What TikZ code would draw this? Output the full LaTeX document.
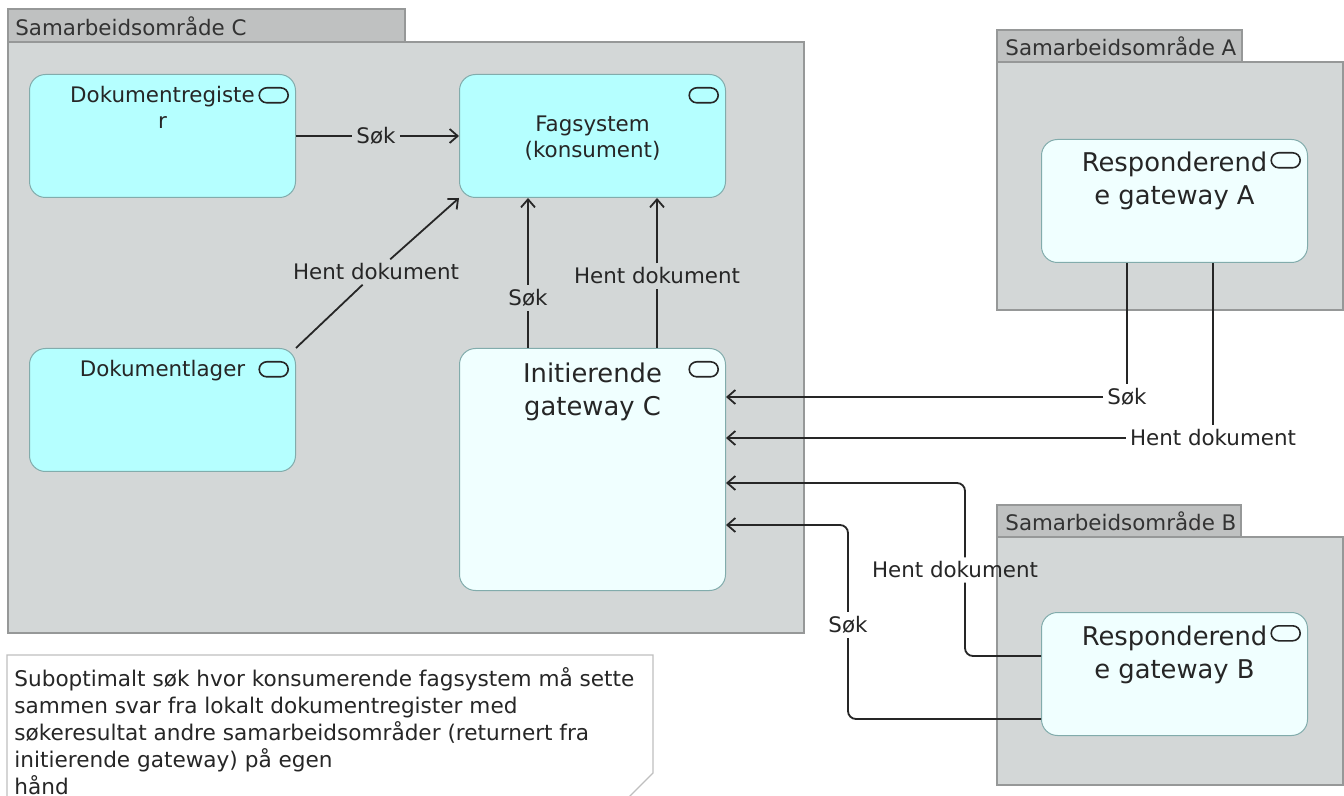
\documentclass[tikz,border=0pt]{standalone}
\usepackage{fontspec}
\setmainfont{DejaVu Sans}
\usetikzlibrary{positioning, arrows.meta}
\definecolor{appcyan}{RGB}{181, 255, 255}
\definecolor{applight}{RGB}{240, 255, 255}
\definecolor{grpfill}{RGB}{211, 215, 215}
\definecolor{tabfill}{RGB}{191, 193, 193}
\definecolor{grpline}{RGB}{150, 152, 152}
\definecolor{appline}{RGB}{130, 172, 172}

\begin{document}
\begin{tikzpicture}[x=0.5pt, y=-0.5pt,
    grp/.style={draw=grpline, fill=grpfill, line width=0.6pt},
    grptab/.style={draw=grpline, fill=tabfill, line width=0.6pt},
    grptitle/.style={anchor=west, inner sep=0pt, text=black!80, font=\fontsize{10.7}{13}\selectfont},
    app/.style={draw=appline, fill=appcyan, rounded corners=8pt, line width=0.5pt,
        minimum width=133pt, minimum height=61.5pt, anchor=north west, inner sep=0pt},
    gwbox/.style={app, fill=applight},
    apptitle/.style={anchor=north, align=center, inner sep=0pt, text=black!85, font=\fontsize{10.7}{13}\selectfont},
    gwtitle/.style={apptitle, font=\fontsize{12.9}{16.5}\selectfont},
    icon/.style={draw=black!85, rounded corners=3.8pt, minimum width=14.5pt, minimum height=7.5pt,
        inner sep=0pt, line width=0.8pt},
    lbl/.style={inner sep=2pt, text=black!85, font=\fontsize{10.7}{13}\selectfont},
    conn/.style={draw=black!85, line width=0.9pt},
    arr/.style={conn, -{Straight Barb[length=4pt, width=7pt]}},
    notebox/.style={draw=black!25, fill=white, line width=0.6pt}]

    \clip (0,0) rectangle (1344,796);
    \fill[white] (0,0) rectangle (1344,796);

    \draw[grp] (8,42) rectangle (804,633);
    \draw[grptab] (8,9) rectangle (405,42);
    \node[grptitle] (grpC) at (15,26) {Samarbeidsområde C};

    \draw[grp] (997,62) rectangle (1343,310);
    \draw[grptab] (997,30) rectangle (1242,62);
    \node[grptitle] (grpA) at (1005,46) {Samarbeidsområde A};

    \draw[grp] (997,537) rectangle (1343,785);
    \draw[grptab] (997,505) rectangle (1241,537);
    \node[grptitle] (grpB) at (1005,521) {Samarbeidsområde B};

    \node[app] (dokreg) at (29,74) {};
    \node[app] (fagsys) at (459,74) {};
    \node[app] (doklager) at (29,348) {};
    \node[gwbox, minimum height=121pt] (initgw) at (459,348) {};
    \node[gwbox] (respA) at (1041,139) {};
    \node[gwbox] (respB) at (1041,612) {};

    \foreach \b in {dokreg, fagsys, doklager, initgw, respA, respB}
        \node[icon, below left=6.5pt and 3.5pt of \b.north east] (\b-icon) {};

    \node[apptitle, below=6pt of dokreg.north] (dokregtxt) {Dokumentregiste\\r};
    \node[apptitle, below=21pt of fagsys.north] (fagsystxt) {Fagsystem\\(konsument)};
    \node[apptitle, below=6pt of doklager.north] (doklagertxt) {Dokumentlager};
    \node[gwtitle, below=7pt of initgw.north] (initgwtxt) {Initierende\\gateway C};
    \node[gwtitle, below=6.5pt of respA.north] (respAtxt) {Responderend\\e gateway A};
    \node[gwtitle, below=6.5pt of respB.north] (respBtxt) {Responderend\\e gateway B};

    \node[lbl] (l1) at (376,136) {Søk};
    \draw[conn] (dokreg.east |- l1) -- (l1);
    \draw[arr] (l1) -- (fagsys.west |- l1);

    \node[lbl] (l2) at (376,272) {Hent dokument};
    \draw[conn] (doklager.north east) -- (l2);
    \draw[arr] (l2) -- (fagsys.south west);

    \node[lbl] (l3) at (528,298) {Søk};
    \draw[conn] (initgw.north -| l3) -- (l3);
    \draw[arr] (l3) -- (fagsys.south -| l3);

    \node[lbl] (l4) at (657,276) {Hent dokument};
    \draw[conn] (initgw.north -| l4) -- (l4);
    \draw[arr] (l4) -- (fagsys.south -| l4);

    \node[lbl] (l5) at (1127,397) {Søk};
    \draw[conn] (respA.south -| l5) -- (l5);
    \draw[arr] (l5) -- (initgw.east |- l5);

    \node[lbl] (l6) at (1213,438) {Hent dokument};
    \draw[conn] (respA.south -| l6) -- (l6);
    \draw[arr] (l6) -- (initgw.east |- l6);

    \coordinate (b7low) at (965,656);
    \coordinate (b7up) at (965,483);
    \node[lbl] (l7) at (955,570) {Hent dokument};
    \draw[conn, rounded corners=4pt] (respB.west |- b7low) -- (b7low) -- (b7low |- l7.south);
    \draw[arr, rounded corners=4pt] (b7up |- l7.north) -- (b7up) -- (initgw.east |- b7up);

    \coordinate (b8low) at (848,719);
    \coordinate (b8up) at (848,525);
    \node[lbl] (l8) at (848,625) {Søk};
    \draw[conn, rounded corners=4pt] (respB.west |- b8low) -- (b8low) -- (b8low |- l8.south);
    \draw[arr, rounded corners=4pt] (b8up |- l8.north) -- (b8up) -- (initgw.east |- b8up);

    \draw[notebox] (7,655) -- (653,655) -- (653,773) -- (623,803) -- (7,803) -- cycle;
    \node[anchor=north west, align=left, inner sep=0pt, text=black!85,
        font=\fontsize{10.8}{13.5}\selectfont] (notetxt) at (14,667)
        {Suboptimalt søk hvor konsumerende fagsystem må sette\\
         sammen svar fra lokalt dokumentregister med\\
         søkeresultat andre samarbeidsområder (returnert fra\\
         initierende gateway) på egen\\
         hånd};
\end{tikzpicture}
\end{document}
